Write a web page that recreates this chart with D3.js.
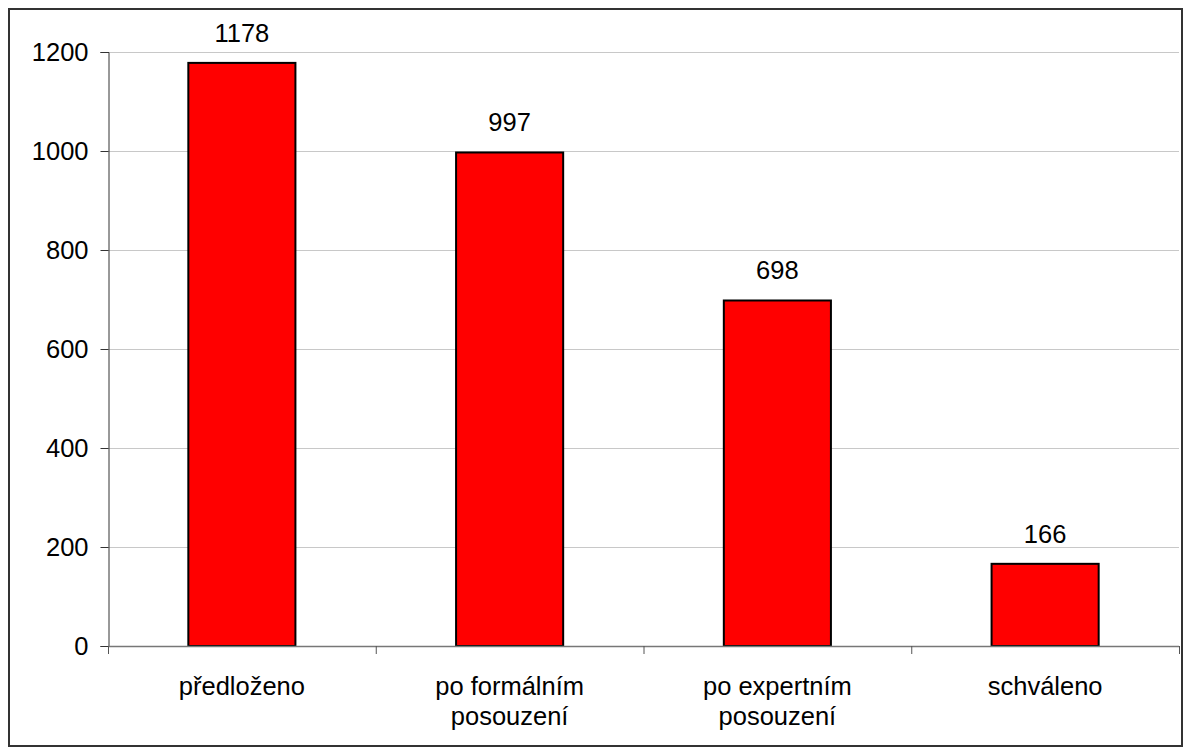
<!DOCTYPE html>
<html>
<head>
<meta charset="utf-8">
<script src="https://cdn.jsdelivr.net/npm/d3@7"></script>
<style>
  body { margin: 0; background: #fff; }
  svg text { font-family: "Liberation Sans", Arial, sans-serif; fill: #000; }
</style>
</head>
<body>
<div id="chart"></div>
<script>
const categories = [["předloženo"], ["po formálním", "posouzení"], ["po expertním", "posouzení"], ["schváleno"]];
const values = [1178, 997, 698, 166];
const yTicks = [0, 200, 400, 600, 800, 1000, 1200];

const width = 1190, height = 755;
const margin = { top: 52, right: 11, bottom: 109, left: 108 };
const fontSize = 25.5;

const svg = d3.select('#chart').append('svg')
  .attr('width', width)
  .attr('height', height);

// outer frame
svg.append('rect')
  .attr('x', 9).attr('y', 9)
  .attr('width', 1173).attr('height', 737)
  .attr('fill', '#fff')
  .attr('stroke', '#333').attr('stroke-width', 2);

const x = d3.scaleBand()
  .domain(d3.range(categories.length))
  .range([margin.left, width - margin.right])
  .paddingInner(0.6)
  .paddingOuter(0.3);

const y = d3.scaleLinear()
  .domain([0, 1200])
  .range([height - margin.bottom, margin.top]);

// gridlines
svg.append('g')
  .selectAll('line')
  .data(yTicks.filter(d => d > 0))
  .join('line')
  .attr('x1', margin.left).attr('x2', width - margin.right)
  .attr('y1', d => Math.round(y(d)) + 0.5).attr('y2', d => Math.round(y(d)) + 0.5)
  .attr('stroke', '#c8c8c8');

// bars
svg.append('g')
  .selectAll('rect')
  .data(values)
  .join('rect')
  .attr('x', (d, i) => x(i))
  .attr('y', d => y(d))
  .attr('width', x.bandwidth())
  .attr('height', d => y(0) - y(d))
  .attr('fill', '#ff0000')
  .attr('stroke', '#000')
  .attr('stroke-width', 2);

// value labels
svg.append('g')
  .selectAll('text')
  .data(values)
  .join('text')
  .attr('x', (d, i) => x(i) + x.bandwidth() / 2)
  .attr('y', d => y(d) - 21)
  .attr('text-anchor', 'middle')
  .attr('font-size', fontSize)
  .text(d => d);

// y axis
const yAxis = svg.append('g')
  .attr('transform', `translate(${margin.left + 0.5},0)`)
  .call(d3.axisLeft(y).tickValues(yTicks).tickFormat(d3.format('d')).tickSize(8).tickPadding(12));
yAxis.select('.domain').attr('stroke', '#333');
yAxis.selectAll('.tick line').attr('stroke', '#333');
yAxis.selectAll('.tick text').attr('font-size', fontSize).attr('font-family', '"Liberation Sans", Arial, sans-serif').attr('fill', '#000');

// x axis baseline and category separators
const xb = svg.append('g');
xb.append('line')
  .attr('x1', margin.left).attr('x2', width - margin.right)
  .attr('y1', y(0) + 0.5).attr('y2', y(0) + 0.5)
  .attr('stroke', '#777').attr('stroke-width', 1.5);
xb.selectAll('line.sep')
  .data(d3.range(categories.length + 1))
  .join('line')
  .attr('class', 'sep')
  .attr('x1', i => margin.left + i * (width - margin.right - margin.left) / categories.length + 0.5)
  .attr('x2', i => margin.left + i * (width - margin.right - margin.left) / categories.length + 0.5)
  .attr('y1', y(0)).attr('y2', y(0) + 8)
  .attr('stroke', '#555');

// category labels
const cat = svg.append('g')
  .selectAll('text')
  .data(categories)
  .join('text')
  .attr('x', (d, i) => x(i) + x.bandwidth() / 2)
  .attr('y', y(0) + 49)
  .attr('text-anchor', 'middle')
  .attr('font-size', fontSize);
cat.selectAll('tspan')
  .data(d => d)
  .join('tspan')
  .attr('x', function () { return d3.select(this.parentNode).attr('x'); })
  .attr('dy', (d, i) => i === 0 ? 0 : 30)
  .text(d => d);
</script>
</body>
</html>
